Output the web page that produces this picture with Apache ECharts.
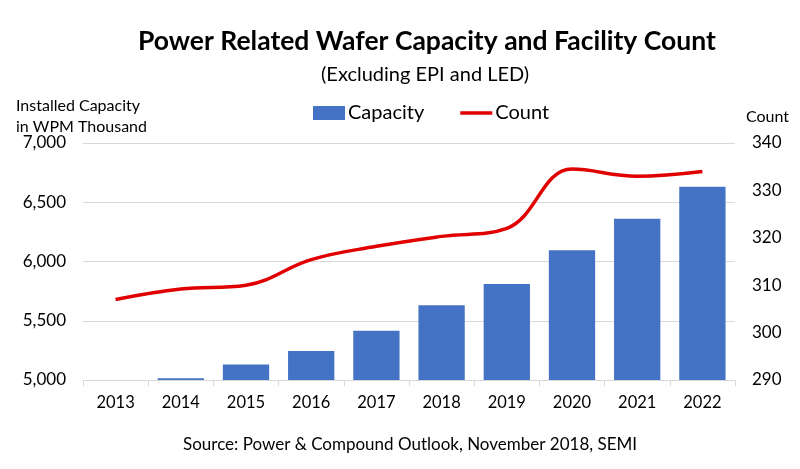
<!DOCTYPE html>
<html>
<head>
<meta charset="utf-8">
<script src="https://cdn.jsdelivr.net/npm/echarts@6/dist/echarts.min.js"></script>
<style>
  html, body { margin: 0; padding: 0; background: #fff; }
  #chart { width: 800px; height: 469px; }
</style>
</head>
<body>
<div id="chart"></div>
<script>
var years = ['2013', '2014', '2015', '2016', '2017', '2018', '2019', '2020', '2021', '2022'];
// installed capacity, WPM thousand
var capacity = [5000, 5015, 5130, 5245, 5415, 5630, 5810, 6095, 6360, 6630];
// facility count
var count = [307, 309.2, 310, 315.4, 318.2, 320.3, 322, 334.5, 333, 334];

var font = 'Lato';

var myChart = echarts.init(document.getElementById('chart'));
var option = {
    animation: false,
    textStyle: { fontFamily: font },
    title: [{
        text: 'Power Related Wafer Capacity and Facility Count',
        left: 133,
        top: 23,
        textStyle: { fontSize: 26.5, fontWeight: 'bold', color: '#000', fontFamily: font }
    }, {
        text: '(Excluding EPI and LED)',
        left: 316,
        top: 60,
        textStyle: { fontSize: 20, fontWeight: 'normal', color: '#000', fontFamily: font }
    }, {
        text: 'Installed Capacity\nin WPM Thousand',
        left: 11,
        top: 90,
        textStyle: { fontSize: 16, fontWeight: 'normal', color: '#000', lineHeight: 21, fontFamily: font }
    }, {
        text: 'Count',
        left: 741,
        top: 104,
        textStyle: { fontSize: 16, fontWeight: 'normal', color: '#000', fontFamily: font }
    }, {
        text: 'Source: Power & Compound Outlook, November 2018, SEMI',
        left: 178,
        top: 431,
        textStyle: { fontSize: 17, fontWeight: 'normal', color: '#000', fontFamily: font }
    }],
    legend: {
        top: 98,
        left: 308,
        itemGap: 36,
        itemWidth: 32,
        itemHeight: 14,
        textStyle: { fontSize: 20, color: '#000', fontFamily: font, padding: [0, 0, 0, -2] },
        data: [
            { name: 'Capacity', icon: 'rect' },
            { name: 'Count', icon: 'path://M0,0 L32,0 L32,3.5 L0,3.5 Z' }
        ]
    },
    grid: { left: 83, right: 65, top: 143, bottom: 89 },
    xAxis: {
        type: 'category',
        data: years,
        axisLine: { lineStyle: { color: '#d9d9d9' } },
        axisTick: { show: true, length: 6, lineStyle: { color: '#d9d9d9' } },
        axisLabel: { color: '#000', fontSize: 16.5, margin: 14, fontFamily: font }
    },
    yAxis: [{
        type: 'value',
        min: 5000,
        max: 7000,
        interval: 500,
        axisLine: { show: false },
        axisTick: { show: false },
        splitLine: { lineStyle: { color: '#d9d9d9' } },
        axisLabel: {
            color: '#000', fontSize: 17, margin: 17, fontFamily: font,
            formatter: function (v) { return v.toLocaleString('en-US'); }
        }
    }, {
        type: 'value',
        min: 290,
        max: 340,
        interval: 10,
        axisLine: { show: false },
        axisTick: { show: false },
        splitLine: { show: false },
        axisLabel: { color: '#000', fontSize: 17, margin: 17, fontFamily: font }
    }],
    series: [{
        name: 'Capacity',
        type: 'bar',
        data: capacity,
        barWidth: '71%',
        itemStyle: { color: '#4472c4' }
    }, {
        name: 'Count',
        type: 'line',
        yAxisIndex: 1,
        data: count,
        smooth: 0.4,
        symbol: 'none',
        lineStyle: { color: '#e00000', width: 3.5 },
        itemStyle: { color: '#e00000' }
    }]
};
myChart.setOption(option);
window.addEventListener('resize', function () {
    myChart.resize();
});
</script>
</body>
</html>
